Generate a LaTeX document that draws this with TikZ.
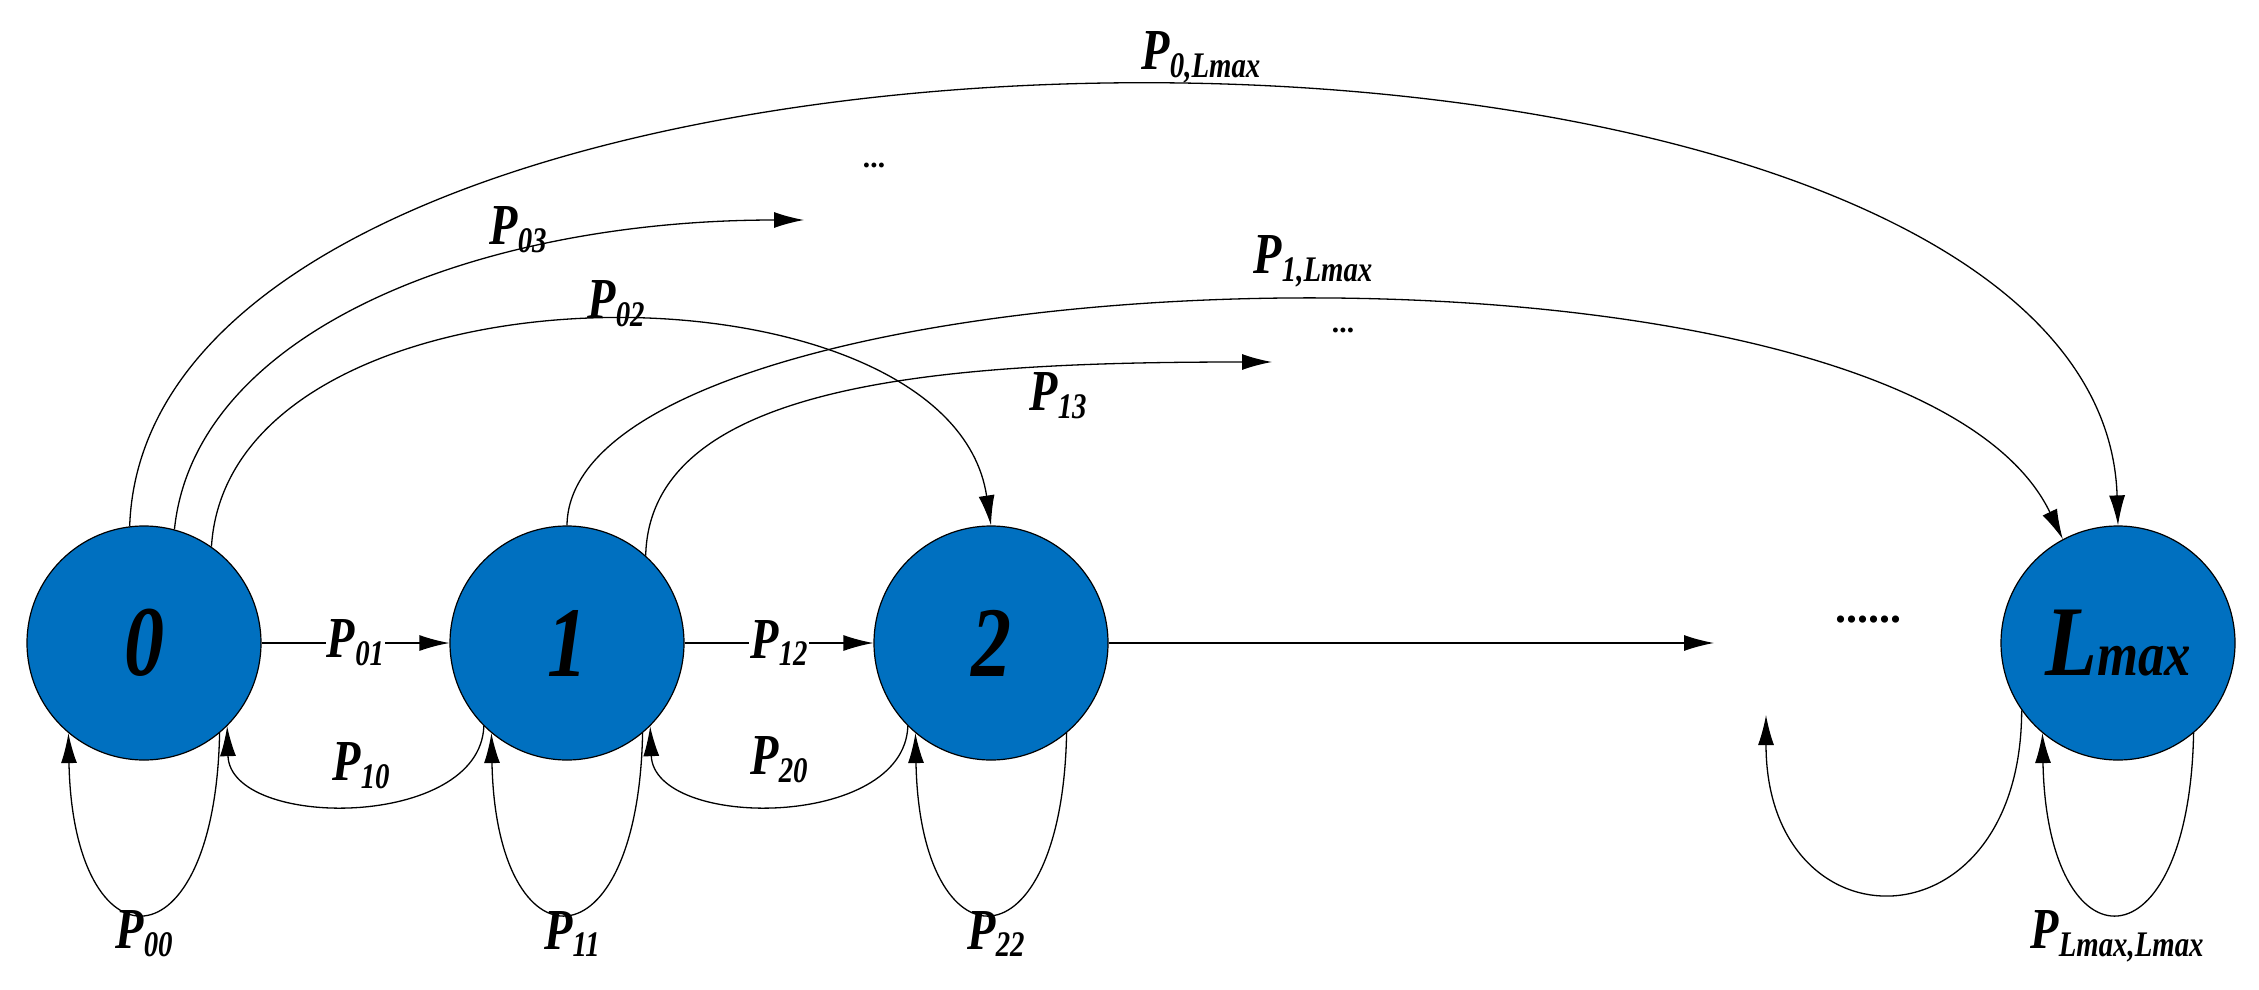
\documentclass[tikz,border=0pt]{standalone}
\usepackage{fontspec}
\setmainfont{Liberation Serif}
\usetikzlibrary{arrows.meta}
\newcommand\pl[2]{\scalebox{0.8}[1]{#1\raisebox{-0.3ex}{\fontsize{36}{36}\selectfont #2}}}
\begin{document}
\begin{tikzpicture}[x=1pt,y=-1pt,
  st/.style={circle,draw=black,line width=1.2pt,fill={rgb,255:red,0;green,112;blue,192},minimum size=234pt,inner sep=0pt,font=\fontsize{100}{100}\selectfont\bfseries\itshape},
  lab/.style={font=\fontsize{58}{60}\selectfont\bfseries\itshape,inner sep=2pt},
  ed/.style={line width=1.3pt,-{Latex[length=30pt,width=16pt]}}]
\useasboundingbox (0,0) rectangle (2259,990);
\node[st] (n0) at (144,643) {\scalebox{0.8}[1]{0}};
\node[st] (n1) at (567,643) {\scalebox{0.8}[1]{1}};
\node[st] (n2) at (991,643) {\scalebox{0.8}[1]{2}};
\node[st] (nL) at (2118,643) {\scalebox{0.85}[1]{L\fontsize{62}{62}\selectfont max}};
\coordinate (c2e) at (1714,643);
\coordinate (cdl) at (1766,715);
\coordinate (c03) at (804,220);
\coordinate (c13) at (1272,362);
% horizontal
\draw[ed] (n0) -- node[lab,fill=white,inner sep=1pt]{\pl{P}{01}} (n1);
\draw[ed] (n1) -- node[lab,fill=white,inner sep=1pt]{\pl{P}{12}} (n2);
\draw[ed] (n2) -- (c2e);
\node[font=\fontsize{44}{44}\selectfont\bfseries] (dots) at (1868,620) {......};
% back loops
\draw[ed] (n1.-135) .. controls (480,830) and (230,830) .. (n0.-45);
\node[lab] (l10) at (361,766) {\pl{P}{10}};
\draw[ed] (n2.-135) .. controls (904,830) and (654,830) .. (n1.-45);
\node[lab] (l20) at (779,760) {\pl{P}{20}};
\draw[ed] (nL.-145) .. controls (2021,952) and (1766,952) .. (cdl);
% self loops
\draw[ed] (n0.-50) .. controls (215,972) and (73,972) .. (n0.-130);
\node[lab] (l00) at (144,934) {\pl{P}{00}};
\draw[ed] (n1.-50) .. controls (638,972) and (496,972) .. (n1.-130);
\node[lab] (l11) at (572,934) {\pl{P}{11}};
\draw[ed] (n2.-50) .. controls (1062,972) and (920,972) .. (n2.-130);
\node[lab] (l22) at (996,934) {\pl{P}{22}};
\draw[ed] (nL.-50) .. controls (2189,972) and (2047,972) .. (nL.-130);
\node[lab] (lLL) at (2117,936) {\pl{P}{Lmax,Lmax}};
% top arcs
\draw[ed] (n0.97) .. controls (150,-60) and (2100,-60) .. (nL.90);
\node[lab] (l0L) at (1201,57) {\pl{P}{0,Lmax}};
\draw[ed] (n0.75) .. controls (195,330) and (480,220) .. (c03);
\node[lab] (l03) at (518,230) {\pl{P}{03}};
\node[font=\fontsize{30}{30}\selectfont\bfseries\itshape] (d1) at (875,165) {...};
\draw[ed] (n0.55) .. controls (230,250) and (950,250) .. (n2.90);
\node[lab] (l02) at (616,304) {\pl{P}{02}};
\draw[ed] (n1.90) .. controls (570,250) and (1900,200) .. (nL.118);
\node[lab] (l1L) at (1313,261) {\pl{P}{1,Lmax}};
\draw[ed] (n1.48) .. controls (650,380) and (950,362) .. (c13);
\node[lab] (l13) at (1058,396) {\pl{P}{13}};
\node[font=\fontsize{30}{30}\selectfont\bfseries\itshape] (d2) at (1344,330) {...};
\end{tikzpicture}
\end{document}
